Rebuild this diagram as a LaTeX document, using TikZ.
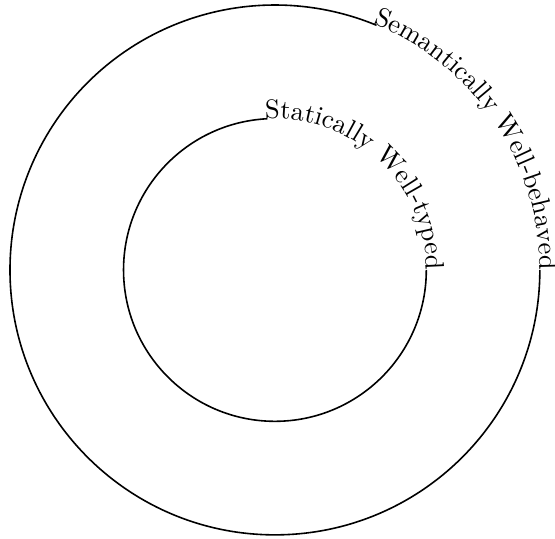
\documentclass[tikz,border=0pt]{standalone}
\usetikzlibrary{decorations.text}
\tikzset{arctext/.style={decoration={text along path,text={#1},
  text align=right},decorate}}
\newlength\outlen
\newlength\inlen

\begin{document}
\settowidth\outlen{Semantically Well-behaved}%
\settowidth\inlen{Statically Well-typed}%
\begin{tikzpicture}
  \useasboundingbox (-3.632,-3.554) rectangle (3.70,3.566);
  % outer circle
  \pgfmathsetmacro\outang{\outlen/3.5cm*180/pi}
  \draw[semithick] (0:3.5) arc[start angle=0,end angle=\outang-360,radius=3.5];
  \path[arctext={Semantically Well-behaved}] (\outang+3:3.5)
    arc[start angle=\outang+3,end angle=0,radius=3.5];
  % inner circle
  \pgfmathsetmacro\inang{\inlen/2cm*180/pi}
  \draw[semithick] (0:2) arc[start angle=0,end angle=\inang-360,radius=2];
  \path[arctext={Statically Well-typed}] (\inang+3:2)
    arc[start angle=\inang+3,end angle=0,radius=2];
\end{tikzpicture}
\end{document}
